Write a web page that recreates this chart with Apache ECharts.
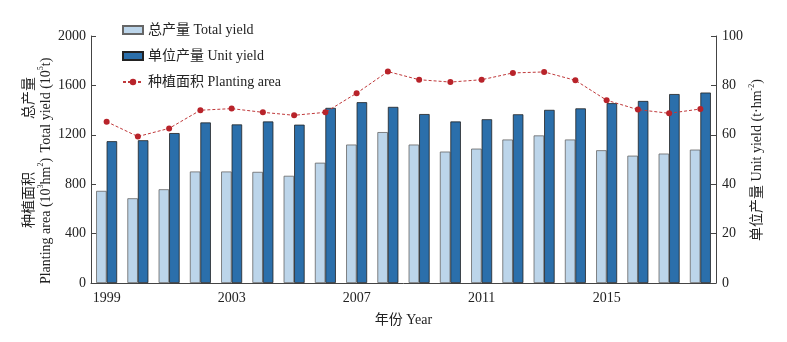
<!DOCTYPE html>
<html>
<head>
<meta charset="utf-8">
<script src="https://cdn.jsdelivr.net/npm/echarts@6/dist/echarts.min.js"></script>
<style>html,body{margin:0;padding:0;background:#fff}#c{width:787px;height:342px}</style>
</head>
<body>
<div id="c"></div>
<script>
var years = ['1999','2000','2001','2002','2003','2004','2005','2006','2007','2008','2009','2010','2011','2012','2013','2014','2015','2016','2017','2018'];
var totalYield = [746,686,759,903,903,900,868,974,1121,1222,1121,1064,1088,1162,1195,1162,1075,1031,1048,1080];
var unitYield = [57.4,57.8,60.7,65.0,64.2,65.4,64.1,70.9,73.2,71.3,68.4,65.4,66.3,68.3,70.1,70.7,72.8,73.7,76.5,77.1];
var plantingArea = [1306,1186,1252,1399,1412,1382,1358,1382,1537,1712,1646,1627,1646,1701,1709,1641,1480,1404,1374,1409];
var leftTicks = {min:0, max:2000, interval:400};
var rightTicks = {min:0, max:100, interval:20};

var FONT = '"Liberation Serif","Times New Roman","Noto Sans CJK SC",serif';
var TXT = '#222';
var chart = echarts.init(document.getElementById('c'));
var richName = {
  n: {fontFamily: FONT, fontSize: 14, color: TXT, lineHeight: 16, verticalAlign: 'bottom'},
  s: {fontFamily: FONT, fontSize: 8, color: TXT, lineHeight: 16, verticalAlign: 'top'}
};
function vtext(x, y, txt) {
  return {type: 'text', x: x, y: y, rotation: Math.PI/2,
    style: {text: txt, rich: richName, align: 'center', verticalAlign: 'middle', fill: TXT, font: '14px ' + FONT}};
}
var axisLine = {show: true, lineStyle: {color: '#444', width: 1}};
chart.setOption({
  animation: false,
  backgroundColor: '#fff',
  grid: {left: 91, right: 71, top: 36, bottom: 59},
  legend: {
    orient: 'vertical', left: 117, top: 18, itemWidth: 20, itemHeight: 8, itemGap: 12,
    textStyle: {fontFamily: FONT, fontSize: 14, color: TXT},
    data: [
      {name: '总产量 Total yield', icon: 'rect'},
      {name: '单位产量 Unit yield', icon: 'rect'},
      {name: '种植面积 Planting area'}
    ]
  },
  xAxis: {
    type: 'category', data: years, boundaryGap: true,
    name: '年份 Year', nameLocation: 'middle', nameGap: 30,
    nameTextStyle: {fontFamily: FONT, fontSize: 14, color: TXT},
    axisLine: axisLine, axisTick: {show: false},
    axisLabel: {interval: 3, fontFamily: FONT, fontSize: 14, color: TXT, margin: 8}
  },
  yAxis: [
    {type: 'value', min: leftTicks.min, max: leftTicks.max, interval: leftTicks.interval,
     axisLine: axisLine, axisTick: {show: true, inside: true, length: 5, lineStyle: {color: '#444'}},
     splitLine: {show: false},
     axisLabel: {fontFamily: FONT, fontSize: 14, color: TXT, margin: 5, formatter: function (v) { return String(v); }}},
    {type: 'value', min: rightTicks.min, max: rightTicks.max, interval: rightTicks.interval,
     axisLine: axisLine, axisTick: {show: true, inside: true, length: 5, lineStyle: {color: '#444'}},
     splitLine: {show: false},
     axisLabel: {fontFamily: FONT, fontSize: 14, color: TXT, margin: 6, formatter: function (v) { return String(v); }}}
  ],
  series: [
    {name: '总产量 Total yield', type: 'bar', yAxisIndex: 0, data: totalYield,
     barWidth: 10.5, barGap: '0%',
     itemStyle: {color: '#bcd5ea', borderColor: '#666', borderWidth: 0.8}},
    {name: '单位产量 Unit yield', type: 'bar', yAxisIndex: 1, data: unitYield,
     barWidth: 10.5, barGap: '0%',
     itemStyle: {color: '#2b6fab', borderColor: '#222', borderWidth: 0.8}},
    {name: '种植面积 Planting area', type: 'line', yAxisIndex: 0, data: plantingArea,
     symbol: 'circle', symbolSize: 6, z: 5,
     lineStyle: {color: '#c0393b', width: 1, type: [3, 2]},
     itemStyle: {color: '#b8232a'}}
  ],
  graphic: [
    vtext(29, 98, '总产量'),
    vtext(45, 105, '{n|Total yield (10}{s|5}{n|t)}'),
    vtext(29, 200, '种植面积'),
    vtext(45, 221, '{n|Planting area (10}{s|3}{n|hm}{s|2}{n|)}'),
    vtext(756, 160, '{n|单位产量 Unit yield (t·hm}{s|-2}{n|)}')
  ]
});
</script>
</body>
</html>
